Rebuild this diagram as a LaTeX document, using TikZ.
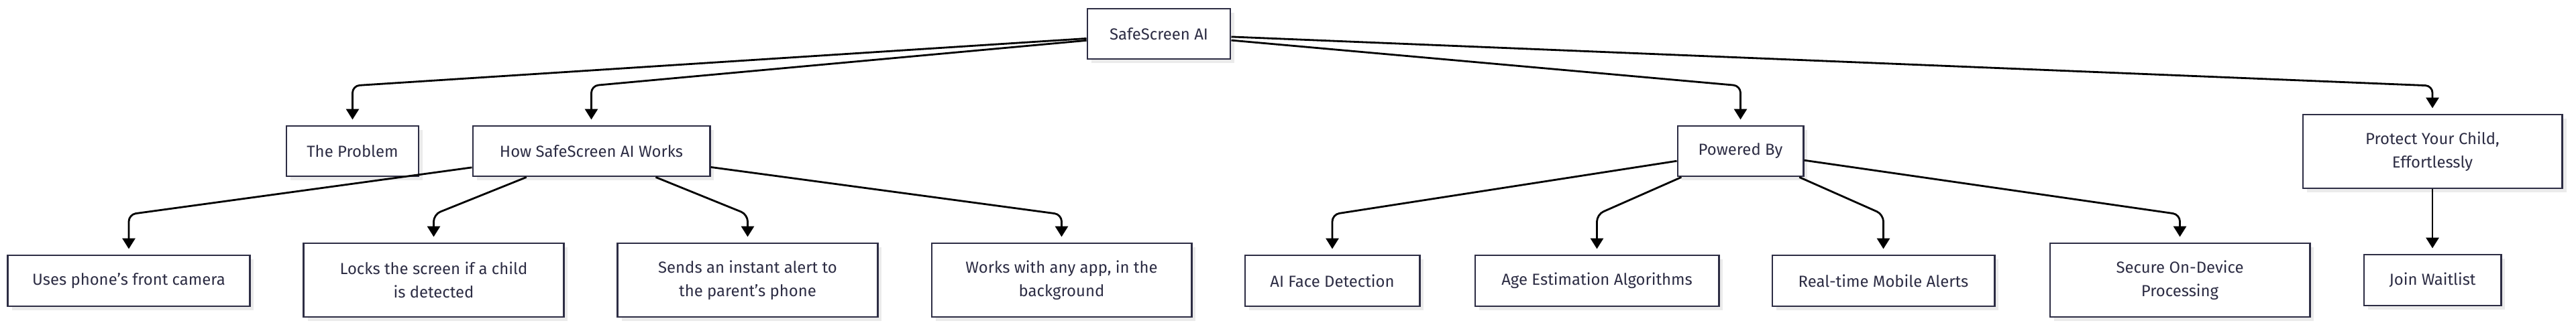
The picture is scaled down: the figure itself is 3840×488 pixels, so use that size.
\documentclass[tikz,border=0pt]{standalone}
\usepackage{fontspec}
\setmainfont{Fira Sans}
\usepackage{tikz}
\usetikzlibrary{arrows.meta,shadows}
\definecolor{ink}{HTML}{2D2D44}

\begin{document}
\begin{tikzpicture}[x=0.01cm,y=-0.01cm]
\tikzstyle{block}=[rectangle, draw=ink, line width=0.8pt, fill=white, text=ink, inner sep=0pt, align=center, font=\fontsize{6.8pt}{9.9pt}\selectfont, drop shadow={shadow xshift=1.8pt, shadow yshift=-1.8pt, fill=black!8, opacity=1}]
\tikzstyle{link}=[-{Triangle[length=4.5pt,width=5.4pt]}, line width=0.8pt, rounded corners=3pt, shorten >=2.3pt]

\useasboundingbox (0,0) rectangle (3840,488);

\node[block, minimum width=2.13cm, minimum height=0.75cm] (root) at (1727.5,50.5) {SafeScreen AI};

\node[block, minimum width=1.97cm, minimum height=0.75cm] (problem) at (525.5,225.5) {The Problem};
\node[block, minimum width=3.53cm, minimum height=0.75cm] (how) at (881.5,225.5) {How SafeScreen AI Works};
\node[block, minimum width=1.87cm, minimum height=0.75cm] (powered) at (2594.5,225.5) {Powered By};
\node[block, minimum width=3.86cm, minimum height=1.10cm] (protect) at (3626,226) {Protect Your Child,\\Effortlessly};

\node[block, minimum width=3.60cm, minimum height=0.76cm] (camera) at (192,419) {Uses phone’s front camera};
\node[block, minimum width=3.87cm, minimum height=1.10cm] (locks) at (646.5,418) {Locks the screen if a child\\is detected};
\node[block, minimum width=3.87cm, minimum height=1.10cm] (alert) at (1114.5,418) {Sends an instant alert to\\the parent’s phone};
\node[block, minimum width=3.87cm, minimum height=1.10cm] (anyapp) at (1582.5,418) {Works with any app, in the\\background};
\node[block, minimum width=2.60cm, minimum height=0.76cm] (face) at (1986,419) {AI Face Detection};
\node[block, minimum width=3.63cm, minimum height=0.76cm] (age) at (2380.5,419) {Age Estimation Algorithms};
\node[block, minimum width=3.31cm, minimum height=0.76cm] (mobile) at (2807.5,419) {Real-time Mobile Alerts};
\node[block, minimum width=3.87cm, minimum height=1.10cm] (secure) at (3249.5,418) {Secure On-Device\\Processing};
\node[block, minimum width=2.04cm, minimum height=0.76cm] (waitlist) at (3626,418) {Join Waitlist};

\coordinate (lvl1) at (0,128);
\coordinate (lvl2) at (0,320);

% root to sections
\draw[link] (root) -- (problem.north |- lvl1) -- (problem.north);
\draw[link] (root) -- (how.north |- lvl1) -- (how.north);
\draw[link] (root) -- (powered.north |- lvl1) -- (powered.north);
\draw[link] (root) -- (protect.north |- lvl1) -- (protect.north);

% how it works
\draw[link] (how) -- (camera.north |- lvl2) -- (camera.north);
\draw[link] (how) -- (locks.north |- lvl2) -- (locks.north);
\draw[link] (how) -- (alert.north |- lvl2) -- (alert.north);
\draw[link] (how) -- (anyapp.north |- lvl2) -- (anyapp.north);

% technology
\draw[link] (powered) -- (face.north |- lvl2) -- (face.north);
\draw[link] (powered) -- (age.north |- lvl2) -- (age.north);
\draw[link] (powered) -- (mobile.north |- lvl2) -- (mobile.north);
\draw[link] (powered) -- (secure.north |- lvl2) -- (secure.north);

\draw[link] (protect) -- (waitlist);
\end{tikzpicture}
\end{document}
